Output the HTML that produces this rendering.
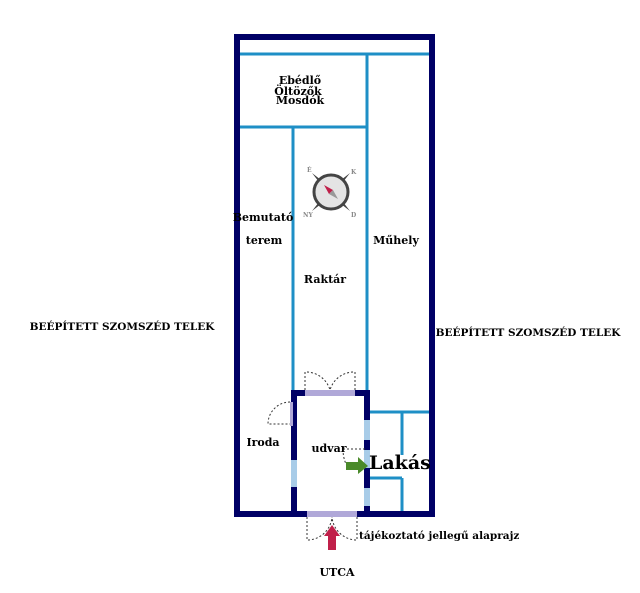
<!DOCTYPE html>
<html><head><meta charset="utf-8"><style>
html,body{margin:0;padding:0;background:#fff;}
svg{display:block;}
text{font-family:"DejaVu Serif","Liberation Serif",serif;font-weight:bold;fill:#000;}
</style></head><body>
<svg width="640" height="593" viewBox="0 0 640 593" xmlns="http://www.w3.org/2000/svg">
<g stroke="#1e8fc6" stroke-width="3" fill="none">
<line x1="240" y1="54" x2="430" y2="54"/>
<line x1="367" y1="54" x2="367" y2="392"/>
<line x1="240" y1="127" x2="367" y2="127"/>
<line x1="293" y1="127" x2="293" y2="392"/>
<line x1="369" y1="412" x2="430" y2="412"/>
<line x1="402" y1="412" x2="402" y2="455"/>
<line x1="369" y1="478" x2="402" y2="478"/>
<line x1="402" y1="478" x2="402" y2="512"/>
</g>
<rect x="237" y="37" width="195" height="477" fill="none" stroke="#000066" stroke-width="6"/>
<rect x="294" y="393" width="73" height="121" fill="none" stroke="#000066" stroke-width="6"/>
<rect x="305" y="390" width="50" height="6" fill="#b0a8d8"/>
<rect x="307" y="511" width="50" height="6" fill="#b0a8d8"/>
<rect x="291" y="460" width="6" height="27" fill="#a8cce8"/>
<rect x="364" y="420" width="6" height="20" fill="#a8cce8"/>
<rect x="364" y="488" width="6" height="18" fill="#a8cce8"/>
<rect x="364" y="450" width="6" height="18" fill="#a8cce8"/>
<rect x="290" y="402" width="3" height="24" fill="#b0a8d8"/>
<g stroke="#333" stroke-width="1" stroke-dasharray="2,2" fill="none">
<path d="M305 390 V372 A25 25 0 0 1 330 390"/>
<path d="M355 390 V372 A25 25 0 0 0 330 390"/>
<path d="M307 517 V540 A25 25 0 0 0 332 517"/>
<path d="M357 517 V540 A25 25 0 0 1 332 517"/>
<path d="M290 402 A22 22 0 0 0 268 424 H290"/>
<path d="M343 449 H366 M343 449 Q343 462 350 470"/>
</g>
<path d="M346 462 L358 462 L358 457 L368 466 L358 474 L358 470 L346 470 Z" fill="#4a8a2a"/>
<path d="M332 525 L340 536 L336 536 L336 550 L328 550 L328 536 L324 536 Z" fill="#c0204a"/>
<g transform="translate(331,192)">
<path d="M-19 -19 L-10 -12 L-12 -10 Z M19 -19 L12 -10 L10 -12 Z M-19 19 L-12 10 L-10 12 Z M19 19 L10 12 L12 10 Z" fill="#444"/>
<circle r="17" fill="#e4e4e4" stroke="#444" stroke-width="3"/>
<path d="M-7 -7 L2 -2 L-2 2 Z" fill="#c0204a"/>
<path d="M7 7 L2 -2 L-2 2 Z" fill="#999"/>
<g font-size="6">
<text x="-24" y="-20" style="fill:#888">É</text><text x="20" y="-18" style="fill:#888">K</text>
<text x="-28" y="25" style="fill:#888">NY</text><text x="20" y="25" style="fill:#888">D</text></g>
</g>
<g font-size="11">
<text x="300" y="84" text-anchor="middle">Ebédlő</text>
<text x="298" y="95" text-anchor="middle">Öltözők</text>
<text x="300" y="104" text-anchor="middle">Mosdók</text>
<text x="263" y="221" text-anchor="middle">Bemutató</text>
<text x="264" y="244" text-anchor="middle">terem</text>
<text x="325" y="283" text-anchor="middle">Raktár</text>
<text x="396" y="244" text-anchor="middle">Műhely</text>
<text x="263" y="446" text-anchor="middle">Iroda</text>
<text x="329" y="452" text-anchor="middle">udvar</text>
<text x="359" y="539" font-size="10.5">tájékoztató jellegű alaprajz</text>
<text x="337" y="576" text-anchor="middle">UTCA</text>
<text x="122" y="330" text-anchor="middle" font-size="10.5">BEÉPÍTETT SZOMSZÉD TELEK</text>
<text x="528" y="336" text-anchor="middle" font-size="10.5">BEÉPÍTETT SZOMSZÉD TELEK</text>
</g>
<text x="369" y="469" font-size="19">Lakás</text>
</svg>
</body></html>
